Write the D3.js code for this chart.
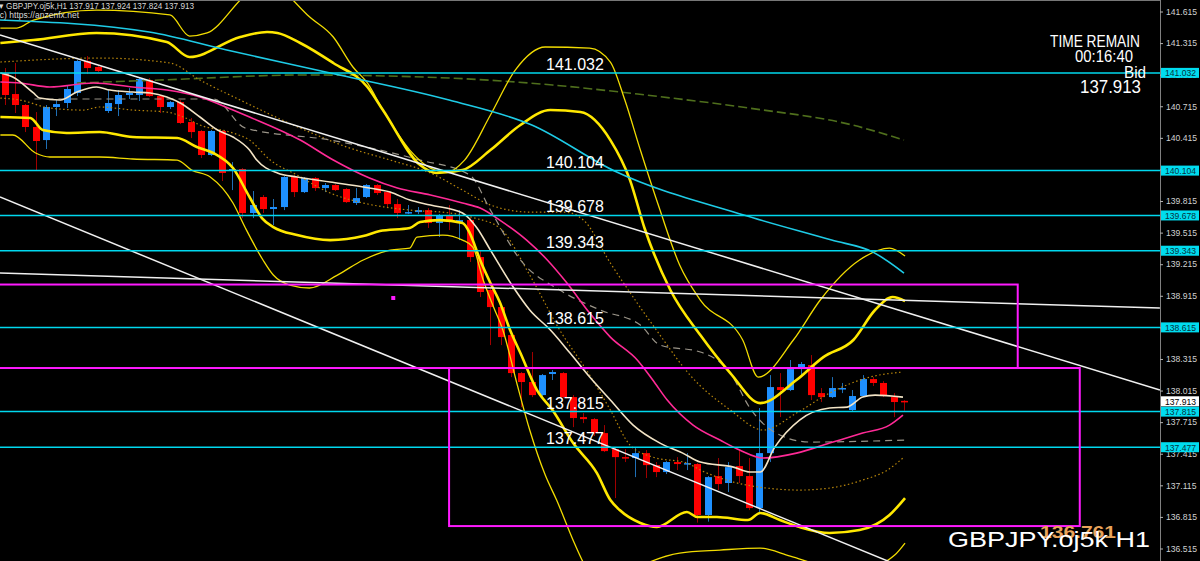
<!DOCTYPE html>
<html><head><meta charset="utf-8">
<script src="https://cdn.jsdelivr.net/npm/d3@7"></script>
<style>html,body{margin:0;padding:0;background:#000;overflow:hidden}</style>
</head><body><svg id="c" width="1200" height="561"></svg>
<script>
// ---------- DATA (H1 candles, index 0 = leftmost visible bar) ----------
const opens = [141.031,140.831,140.727,140.518,140.394,140.708,140.746,140.841,141.145,141.088,
140.670,140.736,140.822,140.822,140.964,140.812,140.708,140.755,140.565,140.480,
140.252,140.480,140.109,140.119,139.701,139.853,139.739,139.758,140.043,139.900,
140.033,139.938,139.967,139.929,139.796,139.853,139.967,139.900,139.786,139.701,
139.710,139.729,139.606,139.682,139.615,139.634,139.283,138.970,138.808,138.542,
138.181,138.096,137.972,138.172,138.181,137.953,137.763,137.744,137.611,137.459,
137.383,137.374,137.421,137.307,137.241,137.336,137.317,137.317,136.833,137.203,
137.137,137.298,137.203,136.899,137.421,138.048,138.020,138.238,138.257,137.991,
137.953,138.029,137.830,137.963,138.124,138.087,137.953,137.917];
const highs = [141.078,141.126,140.736,140.660,140.727,140.774,140.917,141.154,141.192,141.097,
140.869,140.869,140.888,140.983,140.983,140.822,140.765,140.774,140.603,140.489,
140.489,140.489,140.185,140.128,139.910,139.872,139.834,140.052,140.062,140.043,
140.043,139.986,139.976,139.938,139.938,139.976,139.976,139.910,139.834,139.777,
139.758,139.748,139.691,139.777,139.729,139.653,139.349,138.998,138.827,138.561,
138.191,138.381,138.172,138.210,138.191,137.972,137.801,137.754,137.687,137.469,
137.459,137.469,137.450,137.336,137.345,137.383,137.421,137.326,137.203,137.374,
137.336,137.450,137.374,137.849,138.162,138.181,138.305,138.286,138.352,138.039,
138.143,138.087,138.020,138.162,138.143,138.105,137.991,137.924];
const lows = [140.727,140.651,140.470,140.109,140.309,140.622,140.698,140.812,141.021,141.040,
140.651,140.622,140.784,140.765,140.803,140.651,140.689,140.546,140.413,140.223,
140.242,140.005,139.919,139.653,139.653,139.701,139.587,139.729,139.853,139.891,
139.910,139.900,139.910,139.796,139.777,139.843,139.872,139.758,139.653,139.691,
139.691,139.559,139.473,139.539,139.444,139.236,138.903,138.447,138.447,138.143,
137.858,137.953,137.953,138.115,137.944,137.668,137.706,137.583,137.431,136.994,
137.336,137.193,137.184,137.193,137.222,137.260,137.260,136.761,136.770,137.070,
137.051,137.137,136.880,136.861,137.336,137.763,138.010,138.143,137.925,137.906,
137.944,137.991,137.820,137.953,138.058,137.953,137.763,137.824];
const closes = [140.822,140.727,140.518,140.385,140.708,140.736,140.879,141.145,141.078,141.050,
140.746,140.822,140.841,140.974,140.812,140.708,140.755,140.556,140.470,140.252,
140.480,140.081,140.119,139.701,139.777,139.739,139.758,140.043,139.900,140.033,
139.938,139.967,139.919,139.805,139.843,139.967,139.891,139.786,139.701,139.710,
139.729,139.606,139.682,139.615,139.634,139.283,138.951,138.808,138.523,138.181,
138.096,137.972,138.162,138.191,137.953,137.754,137.744,137.611,137.440,137.383,
137.374,137.421,137.307,137.241,137.336,137.317,137.326,136.833,137.193,137.127,
137.288,137.203,136.899,137.421,138.048,138.020,138.219,138.267,137.972,137.953,
138.039,138.039,137.963,138.124,138.087,137.972,137.906,137.913];

// indicator lines: [bar index, price]
const maCyan = [[-0.5,141.534],[14,141.420],[21.5,141.249],[31.5,141.031],[43,140.774],[51,140.537],[59,140.100],[71.5,139.682],[80,139.444],[84,139.330],[87,139.131]];
const maOlive = [[7,140.936],[15,140.964],[29,141.012],[43,140.983],[53,140.917],[62,140.822],[72,140.698],[82,140.537],[87,140.394]];
const maPink = [[-0.4,140.945],[1.5,140.936],[4.4,140.898],[8.6,140.936],[12.4,140.898],[15.7,140.869],[18.9,140.803],[22.1,140.679],[23.7,140.613],[28.6,140.394],[31.8,140.204],[35.3,140.033],[38,139.938],[41.2,139.872],[44.3,139.796],[46,139.748],[47.9,139.634],[50.5,139.444],[52.5,139.255],[54.4,139.036],[56.6,138.751],[58.6,138.523],[61.2,138.305],[62.7,138.115],[64.1,137.925],[66.6,137.687],[69.2,137.545],[71.1,137.450],[73.4,137.374],[76.6,137.421],[79.8,137.516],[83,137.611],[85.6,137.687],[86.9,137.782]];
const maCream = [[-0.4,141.031],[0.8,140.993],[2.8,140.841],[3.4,140.793],[5.4,140.774],[7,140.850],[8.9,140.898],[10.2,140.869],[12.4,140.850],[14.1,140.841],[15.7,140.803],[17,140.746],[18.9,140.613],[20.6,140.489],[22.1,140.423],[23.7,140.299],[24.4,140.204],[26.4,140.081],[28.3,140.043],[31.5,139.995],[34.7,139.948],[37.3,139.900],[39.2,139.824],[41.2,139.777],[44.3,139.701],[45.7,139.559],[47,139.349],[49.2,138.998],[50.8,138.780],[52.8,138.590],[54.7,138.371],[56.6,138.143],[58.6,137.925],[60.8,137.687],[63.4,137.516],[65.6,137.421],[67.3,137.336],[70.5,137.288],[72.1,137.241],[73.1,137.241],[74.5,137.478],[76.9,137.735],[79.8,137.849],[81.5,137.858],[83,137.953],[84.2,137.972],[86.9,137.953]];
const maGray = [[2.9,140.784],[20.2,140.784],[23.3,140.508],[31.5,140.394],[40.2,140.204],[45,140.062],[47,139.729],[49.9,139.255],[53.7,138.970],[57.6,138.780],[61.5,138.637],[63.4,138.447],[67.3,138.381],[70.2,138.181],[72.1,137.849],[75.7,137.564],[77.9,137.526],[87.1,137.545]];
const bbUpperInner = [[-0.4,141.316],[2.8,141.344],[8.9,141.411],[15.7,141.325],[17.9,141.183],[22.8,141.373],[25.4,141.420],[26.4,141.411],[28.6,141.316],[31.8,141.126],[35.1,140.898],[36.6,140.679],[40.2,140.157],[41.8,140.081],[44.3,140.109],[47,140.299],[49.9,140.537],[52.8,140.679],[55.7,140.660],[58.6,140.394],[60.5,140.014],[61.9,139.559],[64.4,138.970],[67.3,138.542],[70.2,138.181],[73.1,137.896],[76.6,138.115],[79.2,138.333],[82.1,138.495],[84.2,138.780],[85.9,138.903],[87.1,138.865]];
const bbUpperOuter = [[-0.4,141.458],[1.2,141.458],[2.8,141.534],[8.9,141.629],[16,141.582],[17.9,141.382],[19.6,141.411],[22.8,141.724],[24.2,141.866],[26.6,141.866],[27.9,141.724],[29.3,141.582],[31.8,141.373],[33.7,141.088],[35.1,140.936],[36.6,140.679],[39.2,140.299],[41.2,140.128],[42.8,140.090],[44.5,140.204],[47,140.632],[49.4,141.059],[52.3,141.278],[56.6,141.268],[58.6,141.135],[60,140.774],[61.5,140.299],[63.4,139.729],[65.3,139.207],[67.3,138.875],[71.4,138.495],[72.9,138.143],[76.3,138.495],[78.9,138.875],[82.7,139.255],[85.6,139.368],[87.1,139.292]];
const bbLowerInner = [[-0.4,140.613],[2.5,140.603],[3.7,140.489],[6,140.461],[9.2,140.470],[12.4,140.423],[16.7,140.413],[18.6,140.328],[20.2,140.271],[22.1,140.128],[23.7,139.853],[24.9,139.653],[26,139.568],[28.3,139.492],[31.5,139.444],[34.7,139.482],[36.3,139.530],[39.2,139.559],[40.2,139.615],[42.1,139.634],[44.3,139.606],[45,139.511],[46,139.255],[47,139.036],[47.9,138.856],[48.9,138.590],[49.9,138.371],[51.5,138.020],[53,137.830],[55,137.516],[57.3,137.231],[58.6,136.975],[59.5,136.880],[61.5,136.757],[63.1,136.719],[66,136.861],[67,136.814],[68.9,136.814],[71.9,136.785],[73.1,136.852],[75,136.785],[76.9,136.719],[79.8,136.662],[82.7,136.690],[85.6,136.833],[87.1,136.994]];
const bbLowerOuter = [[-0.4,140.442],[0.8,140.442],[3,140.271],[4.4,140.233],[9.2,140.233],[12.4,140.214],[16.7,140.204],[18.1,140.109],[19.9,140.043],[22.1,139.796],[23.3,139.559],[25,139.255],[26,139.112],[27.6,139.017],[29.5,138.989],[32.2,139.112],[34.7,139.255],[37.3,139.349],[39.2,139.368],[39.9,139.473],[42.4,139.492],[44.3,139.444],[45.3,139.378],[46.3,139.065],[47.3,138.808],[48.2,138.590],[49.6,138.067],[50.8,137.640],[52.3,137.212],[53.4,136.975],[55.2,136.548],[56.1,136.358],[57.6,136.120],[61.5,136.348],[65.3,136.471],[69.2,136.500],[73.1,136.519],[76,136.443],[79.8,136.348],[83.7,136.348],[86.1,136.453],[87.1,136.567]];
const envUpper = [[-0.4,141.135],[9.2,141.173],[16,141.126],[18.9,140.964],[22.8,140.774],[28.6,140.508],[33.4,140.318],[37.3,140.204],[41.2,140.081],[44.3,139.919],[47,139.777],[50.8,139.710],[54.2,139.710],[56,139.634],[58.6,139.226],[61.2,138.846],[63.4,138.542],[66.3,138.162],[70.2,137.830],[73.4,137.640],[76.6,137.801],[79.8,137.991],[83.7,138.143],[86.9,138.191]];
const envLower = [[-0.4,140.793],[1.5,140.774],[4.4,140.698],[7.6,140.679],[9.2,140.708],[12.4,140.679],[15.7,140.660],[17.3,140.613],[18.9,140.537],[22.1,140.461],[23.7,140.394],[25.7,140.204],[28.3,140.062],[31.5,139.891],[34.7,139.796],[39.2,139.729],[43.1,139.701],[45.5,139.653],[47.9,139.559],[50.8,139.112],[53.7,138.590],[56.6,138.162],[58.6,137.830],[60.5,137.497],[62.7,137.383],[66,137.326],[67.3,137.260],[70.5,137.146],[73.7,137.089],[76.9,137.070],[79.8,137.089],[83,137.165],[85.4,137.260],[86.9,137.374]];

// drawn objects
const trendUpper = [[-0.44,141.392],[111.75,138.020]];
const trendLower = [[-0.44,139.853],[87.1,136.329]];
const trendFlat  = [[-0.44,139.131],[111.75,138.799]];
const levelPrices = [141.032,140.104,139.678,139.343,138.615,137.815,137.477];
const levelLabels = ["141.032","140.104","139.678","139.343","138.615","137.815","137.477"];
const zoneBoxes = [{i0:-5,i1:98,top:139.022,bottom:138.229},{i0:43,i1:104,top:138.229,bottom:136.728}];
const marker = [37.6,138.894];
const tickValues = [141.615,141.315,141.015,140.715,140.415,140.115,139.815,139.515,139.215,138.915,138.615,138.315,138.015,137.715,137.415,137.115,136.815,136.515];
const bidPrice = 137.913;
const lowLabel = "136.761";

// ---------- DRAW ----------
const W = 1200, H = 561, plotRight = 1160;
const x = d3.scaleLinear().domain([0, 87]).range([4.5, 904]);
const y = d3.scaleLinear().domain([136.515, 141.615]).range([548.5, 11.5]);
const FONT = "'Liberation Sans', Arial, sans-serif";

const svg = d3.select('#c');
svg.append('rect').attr('width', W).attr('height', H).attr('fill', '#000');
svg.append('defs').append('clipPath').attr('id', 'clip')
  .append('rect').attr('x', 0).attr('y', 0).attr('width', plotRight).attr('height', H);
const g = svg.append('g').attr('clip-path', 'url(#clip)');

// top border
svg.append('line').attr('x1', 0).attr('x2', plotRight).attr('y1', 0.5).attr('y2', 0.5).attr('stroke', '#777');

// candles
const candles = opens.map((o, i) => ({ i, o, h: highs[i], l: lows[i], c: closes[i] }));
const bull = d => d.c >= d.o;
g.append('g').selectAll('line').data(candles).join('line')
  .attr('x1', d => Math.round(x(d.i)) + 0.5).attr('x2', d => Math.round(x(d.i)) + 0.5)
  .attr('y1', d => y(d.h)).attr('y2', d => y(d.l))
  .attr('stroke', d => bull(d) ? '#1f6fb5' : '#a00000').attr('stroke-width', 1);
g.append('g').selectAll('rect').data(candles).join('rect')
  .attr('x', d => Math.round(x(d.i)) - 3).attr('width', 7)
  .attr('y', d => y(Math.max(d.o, d.c)))
  .attr('height', d => Math.max(1.5, Math.abs(y(d.o) - y(d.c))))
  .attr('fill', d => bull(d) ? '#1e90ff' : '#ff0000');

// indicator lines
const line = d3.line().x(d => x(d[0])).y(d => y(d[1])).curve(d3.curveMonotoneX);
const straight = d3.line().x(d => x(d[0])).y(d => y(d[1]));
function drawLine(data, color, width, dash, gen) {
  g.append('path').datum(data).attr('d', gen || line).attr('fill', 'none')
    .attr('stroke', color).attr('stroke-width', width)
    .attr('stroke-dasharray', dash || null).attr('stroke-linejoin', 'round');
}
drawLine(maOlive, '#4f6f1c', 1.6, '9,4');
drawLine(envUpper, '#b8860b', 1.2, '1.5,2.5');
drawLine(envLower, '#b8860b', 1.2, '1.5,2.5');
drawLine(maGray, '#9a9488', 1.2, '7,5');
drawLine(bbUpperOuter, '#f2dc00', 1.3);
drawLine(bbLowerOuter, '#f2dc00', 1.3);
drawLine(bbUpperInner, '#ffe800', 2.6);
drawLine(bbLowerInner, '#ffe800', 2.6);
drawLine(maCyan, '#1ecbe6', 1.6);
drawLine(maPink, '#ff2a96', 1.6);
drawLine(maCream, '#f3e4c6', 1.6);

// trendlines
[trendUpper, trendLower, trendFlat].forEach(t => drawLine(t, '#f0f0f0', 1.5, null, straight));

// horizontal levels
g.append('g').selectAll('line').data(levelPrices).join('line')
  .attr('x1', 0).attr('x2', plotRight)
  .attr('y1', d => y(d)).attr('y2', d => y(d))
  .attr('stroke', '#00d8ee').attr('stroke-width', 1.5);

// zone boxes
g.append('g').selectAll('rect').data(zoneBoxes).join('rect')
  .attr('x', d => x(d.i0)).attr('width', d => x(d.i1) - x(d.i0))
  .attr('y', d => y(d.top)).attr('height', d => y(d.bottom) - y(d.top))
  .attr('fill', 'none').attr('stroke', '#ff1aff').attr('stroke-width', 2);
g.append('rect').attr('x', x(marker[0]) - 2).attr('y', y(marker[1]) - 2)
  .attr('width', 4).attr('height', 4).attr('fill', '#ff1aff');

// level labels
g.append('g').selectAll('text').data(levelPrices).join('text')
  .attr('x', 546).attr('y', d => y(d) - 3)
  .attr('fill', '#ffffff').attr('font-family', FONT).attr('font-size', 16)
  .text((d, i) => levelLabels[i]);

// right price axis
svg.append('line').attr('x1', plotRight + 0.5).attr('x2', plotRight + 0.5)
  .attr('y1', 0).attr('y2', H).attr('stroke', '#808080');
const axis = d3.axisRight(y).tickValues(tickValues).tickSize(3).tickPadding(3)
  .tickFormat(d3.format('.3f'));
const ax = svg.append('g').attr('transform', `translate(${plotRight},0)`).call(axis);
ax.select('.domain').remove();
ax.selectAll('line').attr('stroke', '#b0b0b0');
ax.selectAll('text').attr('fill', '#d0d0d0').attr('font-family', FONT).attr('font-size', 8.6);

// level boxes on axis
const lb = svg.append('g');
levelPrices.forEach((p, i) => {
  lb.append('rect').attr('x', plotRight + 1).attr('y', y(p) - 5).attr('width', 38).attr('height', 10).attr('fill', '#00dcef');
  lb.append('text').attr('x', plotRight + 5).attr('y', y(p) + 3.3).attr('fill', '#07323c')
    .attr('font-family', FONT).attr('font-size', 8.6).text(levelLabels[i]);
});
lb.append('rect').attr('x', plotRight + 1).attr('y', y(bidPrice) - 5).attr('width', 38).attr('height', 10).attr('fill', '#ffffff');
lb.append('text').attr('x', plotRight + 5).attr('y', y(bidPrice) + 3.3).attr('fill', '#000')
  .attr('font-family', FONT).attr('font-size', 8.6).text(d3.format('.3f')(bidPrice));

// header
svg.append('text').attr('x', -1).attr('y', 9).attr('fill', '#d8d8d8').attr('font-family', FONT)
  .attr('font-size', 8.5).attr('textLength', 195).attr('lengthAdjust', 'spacingAndGlyphs')
  .text('▾ GBPJPY.oj5k,H1  137.917 137.924 137.824 137.913');
svg.append('text').attr('x', -3).attr('y', 17.5).attr('fill', '#d8d8d8').attr('font-family', FONT)
  .attr('font-size', 8.5).attr('textLength', 82).attr('lengthAdjust', 'spacingAndGlyphs')
  .text('(c) https://anzenfx.net');

// top right info
function info(txt, xx, yy, size, len) {
  svg.append('text').attr('x', xx).attr('y', yy).attr('fill', '#ffffff').attr('font-family', FONT)
    .attr('font-size', size).attr('textLength', len).attr('lengthAdjust', 'spacingAndGlyphs').text(txt);
}
info('TIME REMAIN', 1050, 47, 17, 90);
info('00:16:40', 1075, 62, 17, 58);
info('Bid', 1124, 78, 17, 22);
info(d3.format('.3f')(bidPrice), 1080, 93, 18, 61);

// bottom right
svg.append('text').attr('x', 1040).attr('y', 538).attr('fill', '#e8a35a').attr('font-family', FONT)
  .attr('font-size', 17).attr('font-weight', 'bold').attr('textLength', 76)
  .attr('lengthAdjust', 'spacingAndGlyphs').text(lowLabel);
info('GBPJPY.oj5k H1', 948, 547, 22, 202);
</script></body></html>
